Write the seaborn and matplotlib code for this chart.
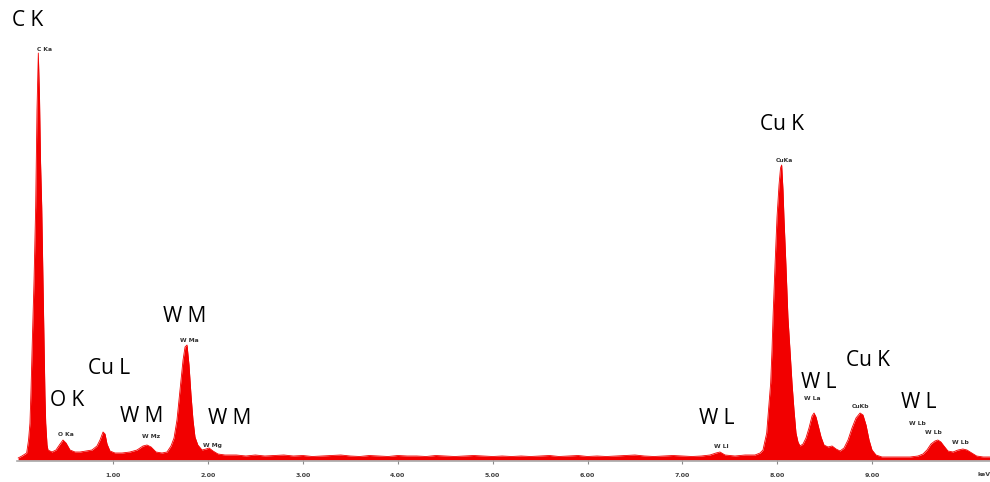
import matplotlib
matplotlib.use("Agg")
import matplotlib.pyplot as plt
import numpy as np
import pandas as pd
import seaborn as sns

# EDS spectrum: energy (keV) and counts
energy_low = [0.00, 0.04, 0.09, 0.11, 0.125, 0.136, 0.150, 0.168, 0.185, 0.199,
              0.213, 0.226, 0.236, 0.249, 0.262, 0.273, 0.283, 0.291, 0.305, 0.315,
              0.357, 0.399, 0.442, 0.473, 0.505, 0.547, 0.600, 0.653, 0.716, 0.779,
              0.831, 0.863, 0.895, 0.916, 0.937, 0.968, 1.021, 1.095, 1.179, 1.253,
              1.316, 1.358, 1.401, 1.453, 1.516, 1.569, 1.611, 1.643, 1.674, 1.706,
              1.738, 1.759, 1.780, 1.801, 1.822, 1.843, 1.864, 1.894, 1.938, 1.980,
              2.012, 2.054, 2.106, 2.180]
counts_low = [20, 40, 70, 200, 370, 700, 1200, 1800, 2530, 3500,
              4070, 3600, 3000, 2530, 1800, 1200, 650, 370, 150, 100,
              80, 100, 160, 200, 170, 100, 80, 80, 90, 100,
              140, 200, 280, 260, 160, 90, 70, 70, 80, 100,
              140, 150, 130, 80, 70, 80, 140, 220, 400, 700,
              1000, 1130, 1150, 950, 650, 400, 230, 150, 100, 110,
              120, 90, 60, 50]

energy_mid = [round(2.3 + 0.1 * i, 2) for i in range(50)]
counts_mid = [50, 40, 50, 40, 45, 50, 40, 45, 35, 40,
              45, 50, 40, 35, 45, 40, 35, 45, 40, 40,
              35, 45, 40, 35, 40, 45, 40, 35, 40, 35,
              40, 35, 40, 45, 35, 40, 45, 35, 40, 35,
              40, 45, 50, 40, 35, 40, 45, 40, 35, 40]

energy_high = [7.291, 7.354, 7.396, 7.449, 7.554, 7.660, 7.765, 7.818, 7.849, 7.888,
               7.907, 7.930, 7.944, 7.955, 7.976, 7.997, 8.018, 8.034, 8.046, 8.060,
               8.070, 8.091, 8.112, 8.134, 8.155, 8.176, 8.197, 8.218, 8.239, 8.271,
               8.302, 8.334, 8.366, 8.387, 8.408, 8.429, 8.461, 8.492, 8.534, 8.577,
               8.619, 8.661, 8.703, 8.745, 8.787, 8.829, 8.872, 8.903, 8.935, 8.967,
               8.998, 9.040, 9.103, 9.187, 9.293, 9.398, 9.482, 9.535, 9.577, 9.619,
               9.661, 9.692, 9.724, 9.756, 9.798, 9.851, 9.904, 9.956, 9.998, 10.05,
               10.10, 10.17, 10.24]
counts_high = [50, 70, 80, 50, 40, 50, 50, 70, 100, 270,
               500, 770, 1100, 1430, 1950, 2430, 2750, 2920, 2950, 2700,
               2430, 1950, 1430, 1100, 770, 500, 270, 180, 140, 160,
               220, 320, 440, 470, 430, 350, 230, 150, 130, 140,
               110, 90, 120, 200, 320, 420, 470, 450, 350, 200,
               100, 50, 30, 30, 30, 30, 40, 60, 100, 160,
               190, 200, 180, 140, 90, 80, 100, 110, 100, 70,
               40, 30, 30]

# Element group labels (text, energy, counts)
group_text = ["C K", "O K", "Cu L", "W M", "W M", "W M", "W L", "Cu K", "W L", "Cu K", "W L"]
group_x = [0.104, 0.515, 0.958, 1.306, 1.759, 2.233, 7.365, 8.050, 8.439, 8.956, 9.493]
group_y = [4400, 600, 920, 430, 1440, 420, 420, 3360, 770, 1000, 570]

# Line labels from the analyser
line_text = ["C Ka", "O Ka", "W Mz", "W Ma", "W Mg", "W Ll", "CuKa", "W La", "CuKb",
             "W Lb", "W Lb", "W Lb"]
line_x = [0.283, 0.506, 1.396, 1.806, 2.049, 7.407, 8.071, 8.370, 8.876, 9.476, 9.645, 9.930]
line_y = [4107, 250, 240, 1190, 150, 133, 3000, 617, 533, 367, 273, 173]

tick_values = [1, 2, 3, 4, 5, 6, 7, 8, 9]
tick_labels = ["1.00", "2.00", "3.00", "4.00", "5.00", "6.00", "7.00", "8.00", "9.00"]

spectrum = pd.DataFrame({
    "energy": energy_low + energy_mid + energy_high,
    "counts": counts_low + counts_mid + counts_high,
})

sns.set_theme(style="white")
plt.rcParams["font.family"] = ["DejaVu Sans"]

W, H = 990, 482
fig = plt.figure(figsize=(W / 100, H / 100), dpi=100)
fig.patch.set_facecolor("white")
ax = fig.add_axes([17 / W, (H - 461) / H, 973 / W, 461 / H])
ax.set_facecolor("white")

red = "#f20000"
ax.fill_between(spectrum["energy"], 0, spectrum["counts"], color=red, linewidth=0, zorder=2)
sns.lineplot(data=spectrum, x="energy", y="counts", color=red, linewidth=0.6,
             estimator=None, sort=False, ax=ax, zorder=3)

ax.set_xlim((17 - 18.1) / 94.9, (990 - 18.1) / 94.9)
ax.set_ylim(-10, 4600)
ax.set_xlabel("")
ax.set_ylabel("")

for side in ["left", "right", "top"]:
    ax.spines[side].set_visible(False)
ax.spines["bottom"].set_color("#a8a8a8")
ax.spines["bottom"].set_linewidth(1.2)
ax.spines["bottom"].set_zorder(4)

ax.set_yticks([])
ax.set_xticks(tick_values)
ax.set_xticklabels(tick_labels)
ax.tick_params(axis="x", direction="inout", length=5, width=0.8, color="#8a8a8a",
               pad=6.0, labelsize=4.5, labelcolor="#404040", bottom=True)
for lab in ax.get_xticklabels():
    lab.set_fontweight("bold")

# axis unit at the right end of the energy scale
fig.text(978 / W, 1 - 475 / H, "keV", fontsize=4.5, fontweight="bold",
         color="#404040", ha="left", va="center")

for t, x, y in zip(group_text, group_x, group_y):
    ax.text(x, y, t, fontsize=15, family=["Open Sans", "DejaVu Sans"], color="black",
            ha="center", va="center", zorder=5)

for t, x, y in zip(line_text, line_x, line_y):
    ax.text(x, y, t, fontsize=4.3, fontweight="bold", color="#333333",
            ha="center", va="center", zorder=5)

fig.savefig("out.png", dpi=100, facecolor="white")
